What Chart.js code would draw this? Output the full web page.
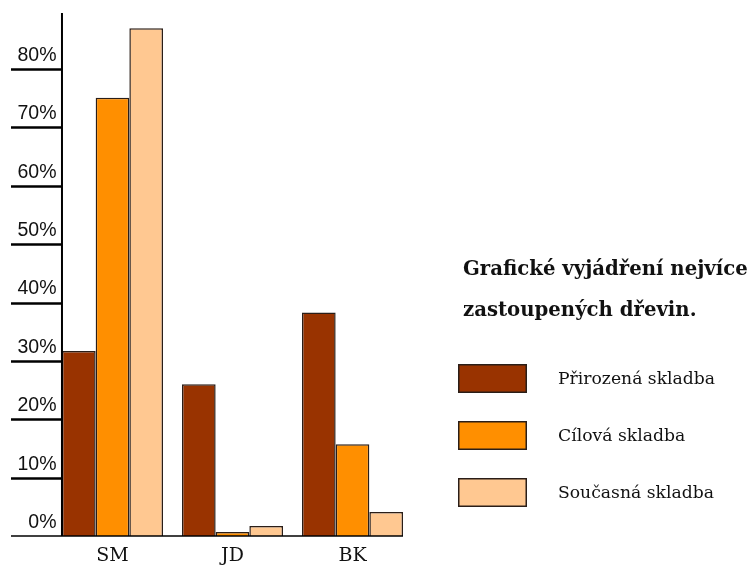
<!DOCTYPE html>
<html>
<head>
<meta charset="utf-8">
<script src="https://cdn.jsdelivr.net/npm/chart.js@4"></script>
<style>
  html, body { margin: 0; padding: 0; background: #ffffff; }
  #wrap { width: 750px; height: 570px; position: relative; }
</style>
</head>
<body>
<div id="wrap"><canvas id="c" width="750" height="570"></canvas></div>
<script>
// Tree species and their share (%) in each composition
const categories = ['SM', 'JD', 'BK'];
const seriesNames = ['Přirozená skladba', 'Cílová skladba', 'Současná skladba'];
const prirozena = [31.7, 26.0, 38.3];
const cilova = [75.1, 0.7, 15.7];
const soucasna = [87.0, 1.7, 4.1];
const seriesColors = ['#993300', '#FF8F00', '#FFC891'];
const legendTitle = ['Grafické vyjádření nejvíce', 'zastoupených dřevin.'];
const yMax = 89.6;
const yStep = 10;

const edgeColor = '#2a1e18';

// Axis line, baseline and the heavy tick rules to the left of the axis
const axisLines = {
  id: 'axisLines',
  afterDatasetsDraw(chart) {
    const { ctx } = chart;
    const y = chart.scales.y;
    const firstBar = chart.getDatasetMeta(0).data[0];
    const lastMeta = chart.getDatasetMeta(chart.data.datasets.length - 1);
    const lastBar = lastMeta.data[lastMeta.data.length - 1];
    const left = firstBar.x - firstBar.width / 2;
    const right = lastBar.x + lastBar.width / 2;
    const top = chart.chartArea.top;
    const base = y.getPixelForValue(0);
    const ruleStart = 11;

    ctx.save();
    ctx.strokeStyle = '#000';
    ctx.lineCap = 'butt';

    // vertical axis
    ctx.lineWidth = 2;
    ctx.beginPath();
    ctx.moveTo(left, top);
    ctx.lineTo(left, base);
    ctx.stroke();

    // baseline, running under the zero label too
    ctx.lineWidth = 1.5;
    ctx.beginPath();
    ctx.moveTo(ruleStart, base);
    ctx.lineTo(right, base);
    ctx.stroke();

    // tick rules
    ctx.lineWidth = 2.6;
    y.ticks.forEach(t => {
      if (t.value === 0) return;
      const py = Math.round(y.getPixelForValue(t.value)) + 0.5;
      ctx.beginPath();
      ctx.moveTo(ruleStart, py);
      ctx.lineTo(left, py);
      ctx.stroke();
    });
    ctx.restore();
  }
};

// Legend block with two-line heading and large swatches
const sideLegend = {
  id: 'sideLegend',
  afterDraw(chart) {
    const { ctx } = chart;
    const x0 = 463;
    ctx.save();
    ctx.fillStyle = '#111';
    ctx.textAlign = 'left';
    ctx.textBaseline = 'alphabetic';
    ctx.font = 'bold 19.7px "DejaVu Serif"';
    ctx.fillText(legendTitle[0], x0, 275);
    ctx.fillText(legendTitle[1], x0, 316);

    const boxX = 458, boxW = 69, boxH = 29, firstTop = 364, step = 57;
    ctx.font = '17.2px "DejaVu Serif"';
    chart.data.datasets.forEach((ds, i) => {
      const top = firstTop + i * step;
      ctx.fillStyle = ds.backgroundColor;
      ctx.fillRect(boxX, top, boxW, boxH);
      ctx.lineWidth = 1.5;
      ctx.strokeStyle = edgeColor;
      ctx.strokeRect(boxX + 0.75, top + 0.75, boxW - 1.5, boxH - 1.5);
      ctx.fillStyle = '#111';
      ctx.textBaseline = 'middle';
      ctx.fillText(ds.label, 558, top + boxH / 2 + 1);
    });
    ctx.restore();
  }
};

const seriesValues = [prirozena, cilova, soucasna];

new Chart(document.getElementById('c'), {
  type: 'bar',
  data: {
    labels: categories,
    datasets: seriesValues.map((vals, i) => ({
      label: seriesNames[i],
      data: vals,
      backgroundColor: seriesColors[i],
      borderColor: edgeColor,
      borderWidth: 1.5,
      borderSkipped: 'bottom',
      categoryPercentage: 0.842,
      barPercentage: 1.0
    }))
  },
  options: {
    responsive: false,
    animation: false,
    devicePixelRatio: 1,
    layout: { padding: { top: 13, left: 0, right: 337.5, bottom: 0 } },
    plugins: {
      legend: { display: false },
      title: { display: false },
      tooltip: { enabled: false }
    },
    scales: {
      x: {
        grid: { display: false, drawTicks: false },
        border: { display: false },
        ticks: {
          color: '#111',
          padding: 9,
          font: { family: '"DejaVu Serif"', size: 19 }
        },
        afterFit(scale) { scale.height = 34; }
      },
      y: {
        min: 0,
        max: yMax,
        grid: { display: false, drawTicks: false },
        border: { display: false },
        ticks: {
          stepSize: yStep,
          includeBounds: false,
          mirror: true,
          crossAlign: 'far',
          color: '#111',
          padding: -35,
          labelOffset: -13.5,
          font: { family: '"Liberation Sans"', size: 19.5 },
          callback: v => v + '%'
        },
        afterFit(scale) { scale.width = 52.5; }
      }
    }
  },
  plugins: [axisLines, sideLegend]
});
</script>
</body>
</html>
